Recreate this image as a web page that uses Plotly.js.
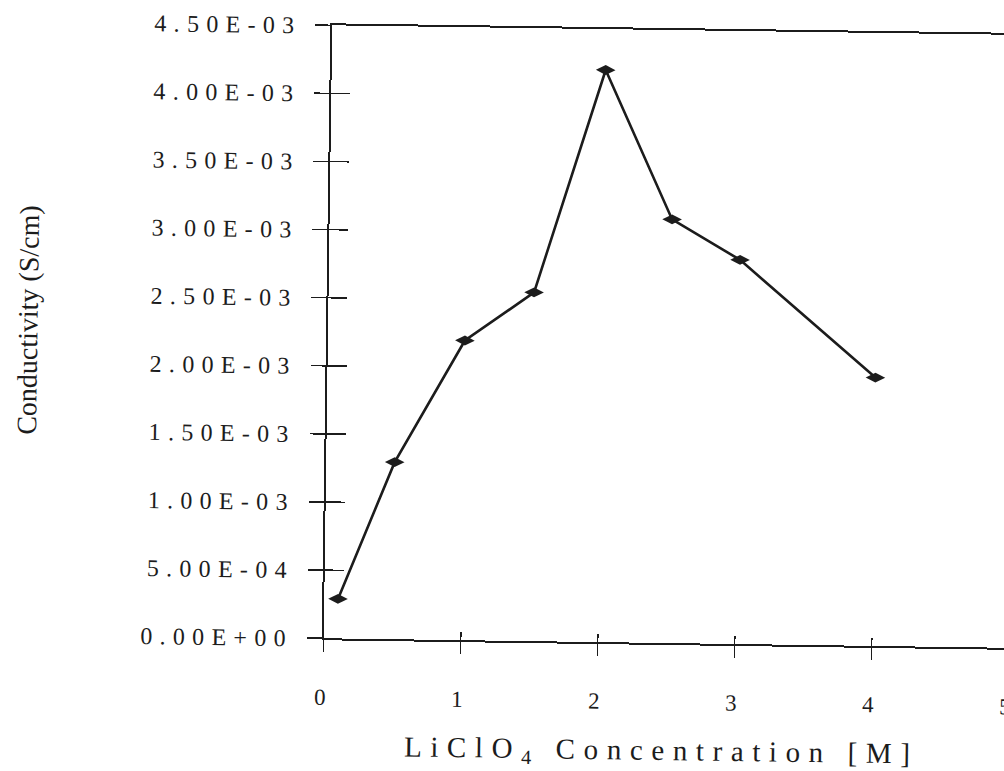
<!DOCTYPE html>
<html>
<head>
<meta charset="utf-8">
<script src="https://cdn.plot.ly/plotly-3.0.1.min.js"></script>
<style>
  html, body { margin: 0; padding: 0; background: #ffffff; overflow: hidden; width: 1004px; height: 771px; }
  #chart { width: 1030px; height: 771px; transform: rotate(0.8deg); transform-origin: 666px 335px; }
  .ytick text { letter-spacing: 7.3px; }
  .xtick text { letter-spacing: 6px; }
  .annotation[data-index="1"] text { letter-spacing: 8.6px; }
</style>
</head>
<body>
<div id="chart"></div>
<script>
// Data
const concentration = [0.1, 0.5, 1.0, 1.5, 2.0, 2.5, 3.0, 4.0];          // LiClO4 [M]
const conductivity  = [2.9e-4, 1.30e-3, 2.20e-3, 2.56e-3, 4.20e-3, 3.11e-3, 2.82e-3, 1.97e-3]; // S/cm

const xTickVals = [0, 1, 2, 3, 4, 5];
const xTickText = ["0", "1", "2", "3", "4", "5"];
const yTickVals = [0, 5e-4, 1e-3, 1.5e-3, 2e-3, 2.5e-3, 3e-3, 3.5e-3, 4e-3, 4.5e-3];
const yTickText = ["0.00E+00", "5.00E-04", "1.00E-03", "1.50E-03", "2.00E-03",
                   "2.50E-03", "3.00E-03", "3.50E-03", "4.00E-03", "4.50E-03"];

const xTitle = "LiClO<sub>4</sub> Concentration [M]";
const yTitle = "Conductivity (S/cm)";

const ink = "#1c1c1c";
const serif = "'Liberation Serif', 'Times New Roman', serif";

const traces = [
  {
    x: concentration, y: conductivity, type: "scatter", mode: "lines+markers",
    line: { color: ink, width: 2.6 },
    marker: { symbol: "diamond-wide", size: 14, color: ink },
    xaxis: "x", yaxis: "y", hoverinfo: "skip", cliponaxis: false
  },
  { x: [], y: [], xaxis: "x2", yaxis: "y", type: "scatter", showlegend: false },
  { x: [], y: [], xaxis: "x", yaxis: "y2", type: "scatter", showlegend: false }
];

const layout = {
  width: 1030, height: 771,
  margin: { l: 328, r: 17, t: 30, b: 128, pad: 0 },
  paper_bgcolor: "#ffffff", plot_bgcolor: "#ffffff",
  showlegend: false,
  font: { family: serif, color: ink },
  xaxis: {
    range: [0, 5], tickvals: xTickVals, ticktext: xTickText,
    ticks: "outside", ticklen: 12, tickwidth: 1.5, tickcolor: ink,
    showline: true, linecolor: ink, linewidth: 2, mirror: true,
    showgrid: false, zeroline: false,
    tickfont: { family: serif, size: 23, color: ink },
    ticklabelstandoff: 25, automargin: false
  },
  xaxis2: {
    overlaying: "x", anchor: "y", range: [0, 5], tickvals: xTickVals,
    ticks: "inside", ticklen: 8, tickwidth: 1.5, tickcolor: ink,
    showticklabels: false, showline: false, showgrid: false, zeroline: false
  },
  yaxis: {
    range: [0, 4.5e-3], tickvals: yTickVals, ticktext: yTickText,
    ticks: "outside", ticklen: 15, tickwidth: 1.5, tickcolor: ink,
    showline: true, linecolor: ink, linewidth: 2, mirror: false,
    showgrid: false, zeroline: false,
    tickfont: { family: serif, size: 24, color: ink },
    ticklabelstandoff: 9, automargin: false
  },
  yaxis2: {
    overlaying: "y", anchor: "x", range: [0, 4.5e-3], tickvals: yTickVals,
    ticks: "inside", ticklen: 19, tickwidth: 1.5, tickcolor: ink,
    showticklabels: false, showline: false, showgrid: false, zeroline: false
  },
  annotations: [
    {
      text: yTitle, xref: "paper", yref: "paper",
      x: -0.4387, y: 0.512, xanchor: "center", yanchor: "middle",
      textangle: -90, showarrow: false,
      font: { family: serif, size: 28, color: ink }
    },
    {
      text: xTitle, xref: "paper", yref: "paper",
      x: 0.4956, y: -0.178, xanchor: "center", yanchor: "middle",
      showarrow: false,
      font: { family: serif, size: 29, color: ink }
    }
  ]
};

Plotly.newPlot("chart", traces, layout, { staticPlot: true, displayModeBar: false });
</script>
</body>
</html>
